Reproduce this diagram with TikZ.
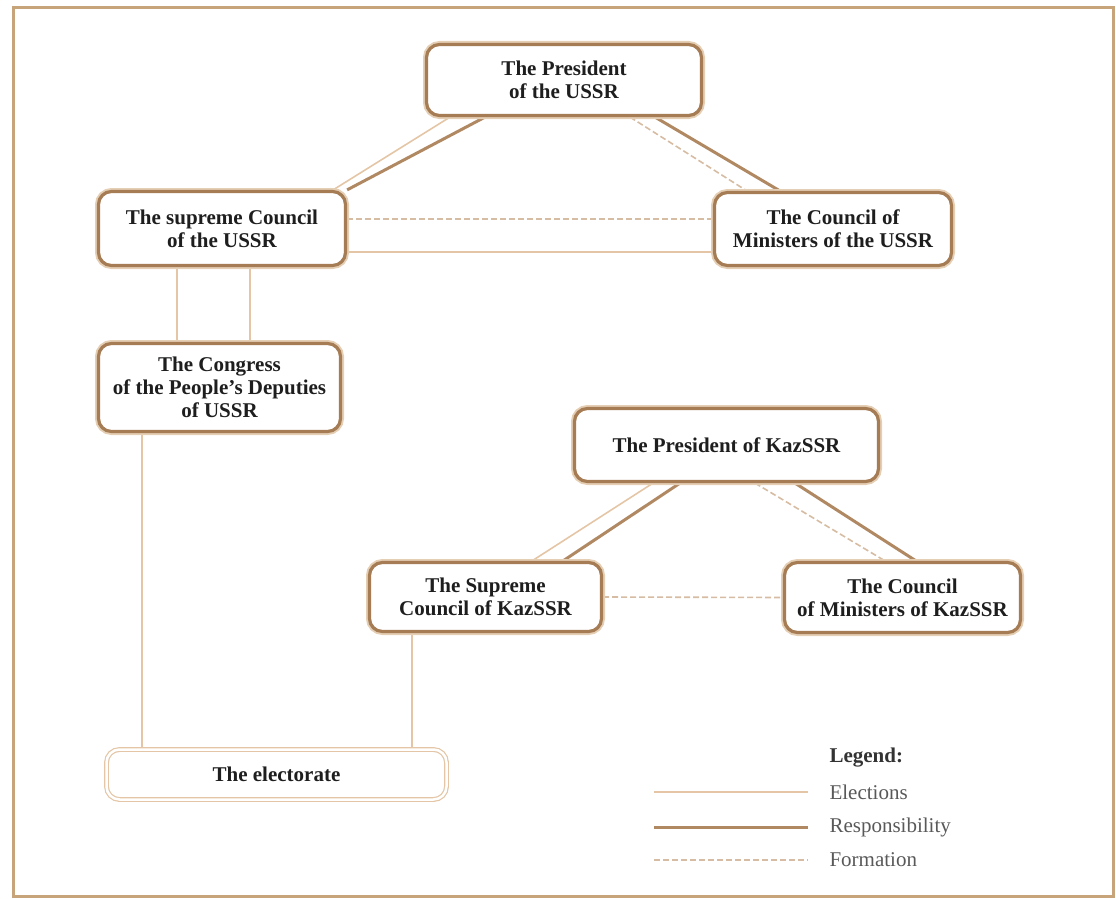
\documentclass[tikz,border=0pt]{standalone}
\usepackage{fontspec}
\setmainfont{Liberation Serif}
\usetikzlibrary{backgrounds}
\definecolor{boxbrown}{RGB}{165,124,84}
\definecolor{boxlight}{RGB}{228,206,180}
\definecolor{respcol}{RGB}{176,136,98}
\definecolor{electcol}{RGB}{228,198,166}
\definecolor{formcol}{RGB}{214,188,162}
\definecolor{framecol}{RGB}{200,164,122}
\definecolor{inkcol}{RGB}{30,30,30}
\tikzset{
  box/.style={draw=boxbrown, line width=3.2pt, rounded corners=13pt, fill=white,
    align=center, text=inkcol, inner sep=2pt,
    font=\bfseries\fontsize{21}{23}\selectfont,
    preaction={draw=boxlight, line width=7pt}},
  votebox/.style={draw=electcol, line width=1.2pt, double=white, double distance=2.5pt,
    rounded corners=13pt, fill=white, align=center, text=inkcol,
    font=\bfseries\fontsize{21}{23}\selectfont},
  elect/.style={draw=electcol, line width=1.6pt},
  resp/.style={draw=respcol, line width=3pt},
  form/.style={draw=formcol, line width=1.6pt, dash pattern=on 6pt off 3pt},
  legtext/.style={anchor=west, text=black!65, font=\fontsize{21}{23}\selectfont}
}
\begin{document}
\begin{tikzpicture}[x=1pt, y=-1pt]
  \useasboundingbox (0,0) rectangle (1116,899);
  \draw[draw=framecol, line width=3pt] (13,8) rectangle (1113,896);

  % USSR
  \node[box, minimum width=275pt, minimum height=71pt] (pusr) at (564,80) {The President\\of the USSR};
  \node[box, minimum width=247pt, minimum height=74pt] (scusr) at (222,228.5) {The supreme Council\\of the USSR};
  \node[box, minimum width=237pt, minimum height=73pt] (cmusr) at (833,229) {The Council of\\Ministers of the USSR};
  \node[box, minimum width=242pt, minimum height=88pt] (cong) at (219.5,387.5) {The Congress\\of the People's Deputies\\of USSR};

  % KazSSR
  \node[box, minimum width=304pt, minimum height=73pt] (pkaz) at (726.5,445) {The President of KazSSR};
  \node[box, minimum width=232pt, minimum height=69pt] (sckaz) at (485.5,597) {The Supreme\\Council of KazSSR};
  \node[box, minimum width=236pt, minimum height=70pt] (cmkaz) at (902.5,597.5) {The Council\\of Ministers of KazSSR};

  \node[votebox, minimum width=340pt, minimum height=50pt] (elec) at (276.5,774.5) {The electorate};

  % legend
  \node[anchor=west, text=black!80, font=\bfseries\fontsize{21}{23}\selectfont] (leg) at (826,758) {Legend:};
  \node[legtext] (lel) at (826,792) {Elections};
  \node[legtext] (lre) at (826,827) {Responsibility};
  \node[legtext] (lfo) at (826,860) {Formation};

  \begin{scope}[on background layer]
    \draw[elect] ([xshift=-114pt]pusr.south) -- ([xshift=-14pt]scusr.north east); % P -> SC
    \draw[resp] ([xshift=-79pt]pusr.south) -- (scusr.north east);
    \draw[form] ([xshift=66pt]pusr.south) -- ([xshift=34pt]cmusr.north west); % P -> CM
    \draw[resp] ([xshift=91pt]pusr.south) -- ([xshift=67pt]cmusr.north west);

    \draw[form] ([yshift=9.5pt]scusr.east) -- ([yshift=10pt]cmusr.west); % SC -- CM
    \draw[elect] ([yshift=-23.5pt]scusr.east) -- ([yshift=-23pt]cmusr.west);

    \draw[elect] ([xshift=-45pt]scusr.south) coordinate (s1) -- (s1 |- cong.north); % SC -- Congress
    \draw[elect] ([xshift=28pt]scusr.south) coordinate (s2) -- (s2 |- cong.north);
    \draw[elect] ([xshift=-77.5pt]cong.south) coordinate (s3) -- (s3 |- elec.north); % Congress -- voters

    \draw[elect] ([xshift=-73.5pt]pkaz.south) -- ([xshift=46.5pt]sckaz.north); % P -> SC (Kaz)
    \draw[resp] ([xshift=-46.5pt]pkaz.south) -- ([xshift=77.5pt]sckaz.north);
    \draw[form] ([xshift=28.5pt]pkaz.south) -- ([xshift=-17.5pt]cmkaz.north); % P -> CM (Kaz)
    \draw[resp] ([xshift=68.5pt]pkaz.south) -- ([xshift=13.5pt]cmkaz.north);
    \draw[form] (sckaz.east) -- (cmkaz.west);
    \draw[elect] ([xshift=-73.5pt]sckaz.south) coordinate (s4) -- (s4 |- elec.north); % SC (Kaz) -- voters

    \draw[elect] ([xshift=-172pt]lel.west) -- ([xshift=-18pt]lel.west);
    \draw[resp] ([xshift=-172pt]lre.west) -- ([xshift=-18pt]lre.west);
    \draw[form] ([xshift=-172pt]lfo.west) -- ([xshift=-18pt]lfo.west);
  \end{scope}
\end{tikzpicture}
\end{document}
